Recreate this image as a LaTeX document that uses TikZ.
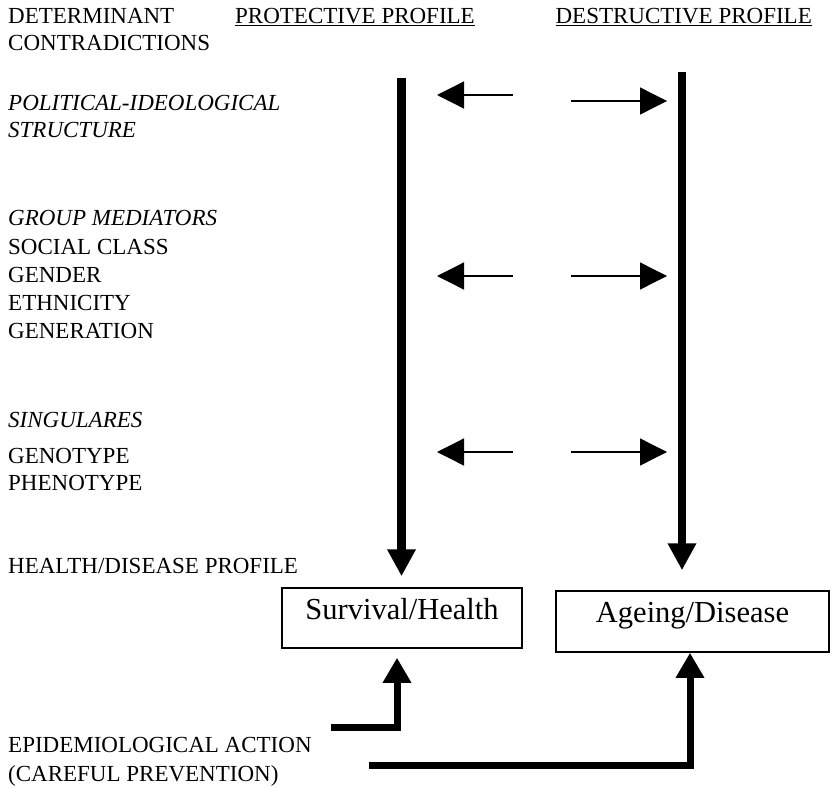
\documentclass[tikz,border=0pt]{standalone}
\usepackage{fontspec}
\setmainfont{Liberation Serif}
\usetikzlibrary{arrows.meta,calc}
\begin{document}
\begin{tikzpicture}[x=1pt,y=-1pt,
  lbl/.style={anchor=base west,inner sep=0pt,font=\fontsize{23}{27}\selectfont},
  ilbl/.style={anchor=base west,inner sep=0pt,font=\fontsize{23}{27}\selectfont\itshape},
  hdr/.style={inner sep=0pt,font=\fontsize{23}{27}\selectfont},
  thinarrow/.style={line width=1.3pt,-{Triangle[length=27pt,width=27pt]}},
  bigarrow/.style={line width=8.5pt,-{Triangle[length=27pt,width=27pt]}},
  boxarrow/.style={line width=7pt,line join=miter,-{Triangle[length=25pt,width=27pt]}},
  outbox/.style={draw,line width=1.5pt,inner sep=0pt,font=\fontsize{30.5}{34}\selectfont}]
\useasboundingbox (0,0) rectangle (834,787);

% headers
\node[lbl] (det) at (8,23) {DETERMINANT};
\node[lbl] (contr) at (8,50) {CONTRADICTIONS};
\node[hdr,anchor=base west] (prot) at (235,23) {\underline{PROTECTIVE PROFILE}};
\node[hdr,anchor=base east] (dest) at (812,23) {\underline{DESTRUCTIVE PROFILE}};

% left column
\node[ilbl] (pol) at (8,110) {POLITICAL-IDEOLOGICAL};
\node[ilbl] (str) at (8,137) {STRUCTURE};
\node[ilbl] (grp) at (8,225) {GROUP MEDIATORS};
\node[lbl] (soc) at (8,254) {SOCIAL CLASS};
\node[lbl] (gen) at (8,282) {GENDER};
\node[lbl] (eth) at (8,310) {ETHNICITY};
\node[lbl] (gnr) at (8,338) {GENERATION};
\node[ilbl] (sing) at (8,427) {SINGULARES};
\node[lbl] (geno) at (8,463) {GENOTYPE};
\node[lbl] (phen) at (8,490) {PHENOTYPE};
\node[lbl] (hdp) at (8,573) {HEALTH/DISEASE PROFILE};
\node[lbl] (epi) at (8,752) {EPIDEMIOLOGICAL ACTION};
\node[lbl] (care) at (8,781) {(CAREFUL PREVENTION)};

% outcome boxes
\node[outbox,minimum width=240pt,minimum height=60pt,text height=21pt,text depth=19pt] (surv) at (402,618) {Survival/Health};
\node[outbox,minimum width=273pt,minimum height=61pt,text height=22pt,text depth=21pt] (age) at (692.5,621.5) {Ageing/Disease};

% vertical profile arrows
\coordinate (ltop) at (401.5,78);
\coordinate (rtop) at (682,72);
\draw[bigarrow] (ltop) -- ($(surv.north)+(-0.5,-11)$);
\draw[bigarrow] (rtop) -- ($(rtop |- age.north)+(0,-20)$);

% horizontal thin arrows
\coordinate (l1s) at (513,95);  \coordinate (l1e) at (437,95);
\coordinate (r1s) at (571,101); \coordinate (r1e) at (667,101);
\coordinate (l2s) at (513,276); \coordinate (l2e) at (437,276);
\coordinate (r2s) at (571,276); \coordinate (r2e) at (667,276);
\coordinate (l3s) at (513,452); \coordinate (l3e) at (437,452);
\coordinate (r3s) at (571,452); \coordinate (r3e) at (667,452);
\draw[thinarrow] (l1s) -- (l1e);
\draw[thinarrow] (r1s) -- (r1e);
\draw[thinarrow] (l2s) -- (l2e);
\draw[thinarrow] (r2s) -- (r2e);
\draw[thinarrow] (l3s) -- (l3e);
\draw[thinarrow] (r3s) -- (r3e);

% epidemiological action arrows
\coordinate (s1) at (331,727);
\coordinate (s2) at (369,765);
\draw[boxarrow] (s1) -| ($(surv.south)+(-5,9)$);
\draw[boxarrow] (s2) -| ($(age.south)+(-2.5,0)$);
\end{tikzpicture}
\end{document}
